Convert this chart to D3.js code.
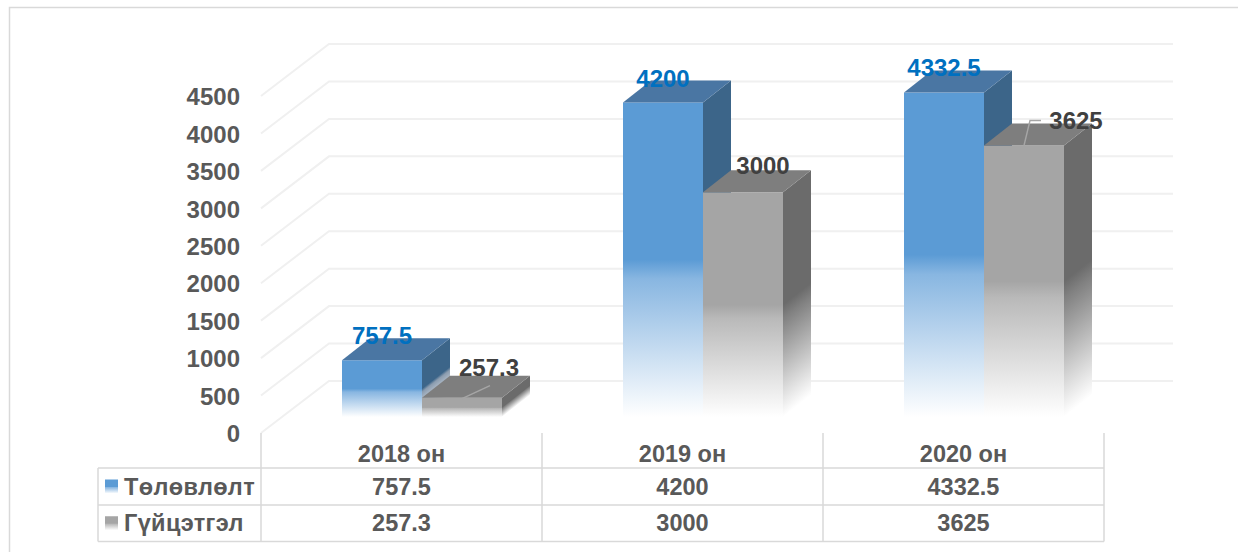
<!DOCTYPE html>
<html>
<head>
<meta charset="utf-8">
<script src="https://cdn.jsdelivr.net/npm/d3@7"></script>
<style>
    html, body { margin: 0; padding: 0; background: #fff; }
    text { font-family: "Liberation Sans", Arial, sans-serif; font-weight: bold; }
</style>
</head>
<body>
<div id="chart"></div>
<script>
const categories = ['2018 он', '2019 он', '2020 он'];
const seriesNames = ['Төлөвлөлт', 'Гүйцэтгэл'];
const planValues = [757.5, 4200, 4332.5];
const actualValues = [257.3, 3000, 3625];
const yTicks = [0, 500, 1000, 1500, 2000, 2500, 3000, 3500, 4000, 4500];

const width = 1238;
const height = 552;

// 3d offsets: wall = axis to back wall, depth = bar thickness, floor = bar lift off the axis
const wall = { dx: 68, dy: -52 };
const depth = { dx: 28, dy: -22 };
const floorLift = 16;

const palette = [
    { front: '#5b9bd5', mid: '#88b6e1', side: '#3c6589', sideMid: '#8b9caf', top: '#4a76a3', label: '#0070c0' },
    { front: '#a5a5a5', mid: '#b9b9b9', side: '#6b6b6b', sideMid: '#808080', top: '#7e7e7e', label: '#404040' }
];

// label position relative to the top centre of the bar's front face
const labelNudge = [
    [{ dx: 0, dy: -25 }, { dx: 0, dy: -24 }, { dx: 0, dy: -25 }],
    [{ dx: 27, dy: -30 }, { dx: 20, dy: -27 }, { dx: 52, dy: -25 }]
];

const svg = d3.select('#chart').append('svg')
    .attr('width', width)
    .attr('height', height)
    .style('display', 'block');

const defs = svg.append('defs');

const x = d3.scaleBand().domain(categories).range([261, 1104]);
const xSeries = d3.scaleBand().domain(seriesNames).range([81, 241]);
const y = d3.scaleLinear().domain([0, 4500]).range([433, 96]);

function fadeStops(grad, solid, mid) {
    [[0, solid], [0.5, solid], [0.56, mid], [1, '#ffffff']].forEach(s => {
        grad.append('stop').attr('offset', s[0]).attr('stop-color', s[1]);
    });
}

palette.forEach((c, i) => {
    fadeStops(defs.append('linearGradient').attr('id', `front-${i}`)
        .attr('x1', 0).attr('y1', 0).attr('x2', 0).attr('y2', 1), c.front, c.mid);
});

// chart frame, only top and left show in the crop
svg.append('path')
    .attr('d', `M9.5,${height}V7.5H${width}`)
    .attr('fill', 'none')
    .attr('stroke', '#d9d9d9')
    .attr('stroke-width', 1.5);

// gridlines
const grid = svg.append('g').attr('fill', 'none').attr('stroke', '#f0f0f0').attr('stroke-width', 2);
yTicks.forEach(t => {
    grid.append('path')
        .attr('d', `M261,${y(t)}L${261 + wall.dx},${y(t) + wall.dy}H1173`);
});

// y axis labels
const axis = svg.append('g')
    .attr('transform', 'translate(240,1)')
    .call(d3.axisLeft(y).tickValues(yTicks).tickSize(0).tickPadding(0).tickFormat(d3.format('d')));
axis.select('.domain').remove();
axis.selectAll('text')
    .attr('font-size', 24)
    .attr('fill', '#595959');

// bars
const barWidth = xSeries.bandwidth();
const barFloor = v => y(v) - floorLift;

categories.forEach((cat, ci) => {
    [planValues, actualValues].forEach((values, si) => {
        const v = values[ci];
        const c = palette[si];
        const x0 = x(cat) + xSeries(seriesNames[si]);
        const x1 = x0 + barWidth;
        const top = barFloor(v);
        const bottom = barFloor(0);
        const h = bottom - top;

        svg.append('rect')
            .attr('x', x0).attr('y', top)
            .attr('width', barWidth).attr('height', h)
            .attr('fill', `url(#front-${si})`);

        // side fade runs along the depth, so its gradient follows the slanted edge
        const k = depth.dx * h / (depth.dx * depth.dx + depth.dy * depth.dy);
        const sideId = `side-${si}-${ci}`;
        fadeStops(defs.append('linearGradient').attr('id', sideId)
            .attr('gradientUnits', 'userSpaceOnUse')
            .attr('x1', x1).attr('y1', top)
            .attr('x2', x1 - depth.dy * k).attr('y2', top + depth.dx * k), c.side, c.sideMid);

        svg.append('path')
            .attr('d', `M${x1},${top}l${depth.dx},${depth.dy}V${bottom + depth.dy}L${x1},${bottom}Z`)
            .attr('fill', `url(#${sideId})`);

        svg.append('path')
            .attr('d', `M${x0},${top}l${depth.dx},${depth.dy}H${x1 + depth.dx}L${x1},${top}Z`)
            .attr('fill', c.top);
    });
});

// leader lines for the two labels pushed off their bars
const leader = svg.append('g').attr('fill', 'none').attr('stroke', '#a6a6a6').attr('stroke-width', 1.4);
const actualCentre = ci => x(categories[ci]) + xSeries(seriesNames[1]) + barWidth / 2;
leader.append('path')
    .attr('d', `M${actualCentre(0)},${barFloor(actualValues[0]) + 1}l28,-13`);
leader.append('path')
    .attr('d', `M${actualCentre(2)},${barFloor(actualValues[2])}l6,-25h11`);

// data labels
[planValues, actualValues].forEach((values, si) => {
    categories.forEach((cat, ci) => {
        const n = labelNudge[si][ci];
        svg.append('text')
            .attr('x', x(cat) + xSeries(seriesNames[si]) + barWidth / 2 + n.dx)
            .attr('y', barFloor(values[ci]) + n.dy)
            .attr('dy', '0.35em')
            .attr('text-anchor', 'middle')
            .attr('font-size', 24)
            .attr('fill', palette[si].label)
            .text(values[ci]);
    });
});

// data table
const tableLeft = 98;
const rowLines = [468, 505, 541.5];
const table = svg.append('g').attr('stroke', '#d9d9d9').attr('stroke-width', 1.5).attr('fill', 'none');
rowLines.forEach(ly => {
    table.append('line').attr('x1', tableLeft).attr('x2', 1104).attr('y1', ly).attr('y2', ly);
});
table.append('line').attr('x1', tableLeft).attr('x2', tableLeft).attr('y1', rowLines[0]).attr('y2', rowLines[2]);
[...categories.map(c => x(c)), x.range()[1]].forEach(lx => {
    table.append('line').attr('x1', lx).attr('x2', lx).attr('y1', y(0)).attr('y2', rowLines[2]);
});

function cellText(tx, ty, txt, anchor, size) {
    return svg.append('text')
        .attr('x', tx).attr('y', ty)
        .attr('dy', '0.35em')
        .attr('text-anchor', anchor)
        .attr('font-size', size)
        .attr('fill', '#595959')
        .text(txt);
}

const rowMid = [(rowLines[0] + rowLines[1]) / 2, (rowLines[1] + rowLines[2]) / 2];

categories.forEach((cat, ci) => {
    const cx = x(cat) + x.bandwidth() / 2;
    cellText(cx, 454, cat, 'middle', 23.5);
    cellText(cx, rowMid[0], planValues[ci], 'middle', 23.5);
    cellText(cx, rowMid[1], actualValues[ci], 'middle', 23.5);
});

seriesNames.forEach((name, si) => {
    svg.append('rect')
        .attr('x', 105).attr('y', rowMid[si] - 7)
        .attr('width', 13).attr('height', 14)
        .attr('fill', `url(#front-${si})`);
    cellText(124, rowMid[si], name, 'start', 23.5).attr('letter-spacing', 0.35);
});
</script>
</body>
</html>
